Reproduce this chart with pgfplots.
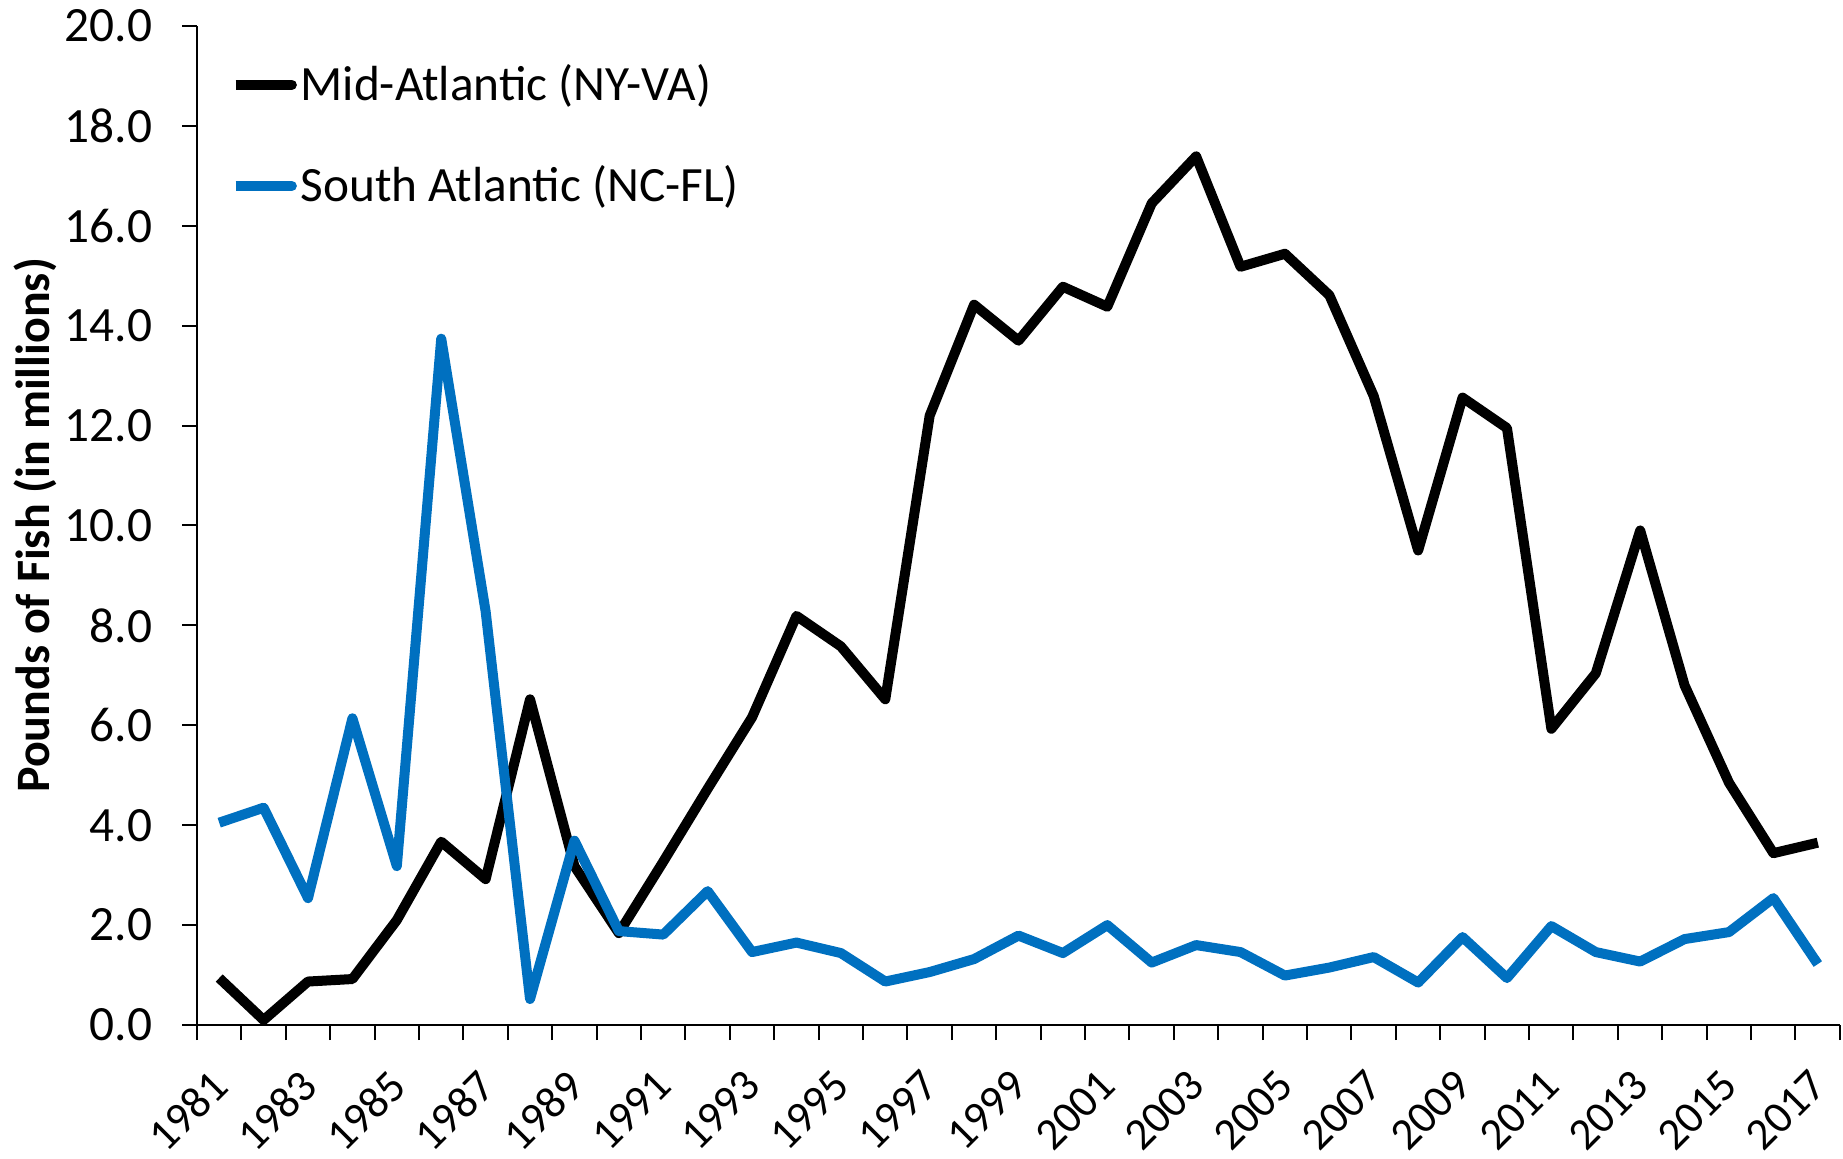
\documentclass[border=0pt]{standalone}
\usepackage{fontspec}
\setmainfont{Carlito}
\usepackage{pgfplots}
\pgfplotsset{compat=1.18}
\definecolor{sablue}{HTML}{0070C0}
\begin{document}
\begin{tikzpicture}
\begin{axis}[
  scale only axis, width=492.9pt, height=299.7pt,
  xmin=1980.5, xmax=2017.5, ymin=0, ymax=20,
  axis lines*=left,
  axis line style={line width=0.6pt},
  every tick/.style={black, line width=0.6pt},
  tick align=outside,
  major tick length=4.5pt, minor tick length=4.5pt,
  ytick={0,2,...,20},
  /pgf/number format/assume math mode=true,
  yticklabel style={/pgf/number format/.cd, fixed, fixed zerofill, precision=1, /tikz/.cd, font=\fontsize{14.8}{17}\selectfont, xshift=-5.4pt},
  xtick={1981,1983,...,2017},
  xticklabels={1981,1983,1985,1987,1989,1991,1993,1995,1997,1999,2001,2003,2005,2007,2009,2011,2013,2015,2017},
  major x tick style={draw=none},
  minor xtick={1980.5,1981.5,...,2017.5},
  xticklabel style={yshift=-6.6pt, xshift=-3pt, rotate=45, anchor=north east, inner sep=1pt, font=\fontsize{13.5}{16}\selectfont},
  ylabel={Pounds of Fish (in millions)},
  every axis y label/.style={at={(axis description cs:-0.0986,0.5)}, rotate=90, anchor=center, font=\fontsize{14.4}{17}\selectfont\bfseries},
  legend style={draw=none, fill=none, at={(axis description cs:0.02,0.969)}, anchor=north west, font=\fontsize{14.8}{17}\selectfont, row sep=14pt, inner sep=0pt},
  legend cell align=left,
  legend image code/.code={\path (0pt,0pt) -- (16pt,0pt); \draw[#1, line cap=round, overlay] (1.9pt,0pt) -- (16.9pt,0pt);},
]
\addplot[black, line width=3pt, line join=round] coordinates {
(1981,0.94) (1982,0.10) (1983,0.87) (1984,0.92) (1985,2.10) (1986,3.67) (1987,2.92) (1988,6.52) (1989,3.18) (1990,1.84)
(1991,3.27) (1992,4.73) (1993,6.16) (1994,8.19) (1995,7.58) (1996,6.52) (1997,12.20) (1998,14.42) (1999,13.70) (2000,14.78)
(2001,14.38) (2002,16.45) (2003,17.39) (2004,15.18) (2005,15.44) (2006,14.61) (2007,12.59) (2008,9.50) (2009,12.56) (2010,11.95)
(2011,5.93) (2012,7.04) (2013,9.90) (2014,6.80) (2015,4.85) (2016,3.44) (2017,3.65)
};
\addlegendentry{Mid-Atlantic (NY-VA)}
\addplot[sablue, line width=3pt, line join=round] coordinates {
(1981,4.05) (1982,4.35) (1983,2.54) (1984,6.14) (1985,3.18) (1986,13.74) (1987,8.28) (1988,0.52) (1989,3.69) (1990,1.88)
(1991,1.81) (1992,2.68) (1993,1.46) (1994,1.65) (1995,1.44) (1996,0.87) (1997,1.06) (1998,1.32) (1999,1.79) (2000,1.44)
(2001,2.00) (2002,1.25) (2003,1.60) (2004,1.46) (2005,0.99) (2006,1.15) (2007,1.36) (2008,0.85) (2009,1.76) (2010,0.94)
(2011,1.98) (2012,1.46) (2013,1.27) (2014,1.72) (2015,1.86) (2016,2.54) (2017,1.22)
};
\addlegendentry{South Atlantic (NC-FL)}
\end{axis}
\pgfresetboundingbox
\path[use as bounding box] (-59.1pt,-39.9pt) rectangle (493.8pt,307.5pt);
\end{tikzpicture}
\end{document}
